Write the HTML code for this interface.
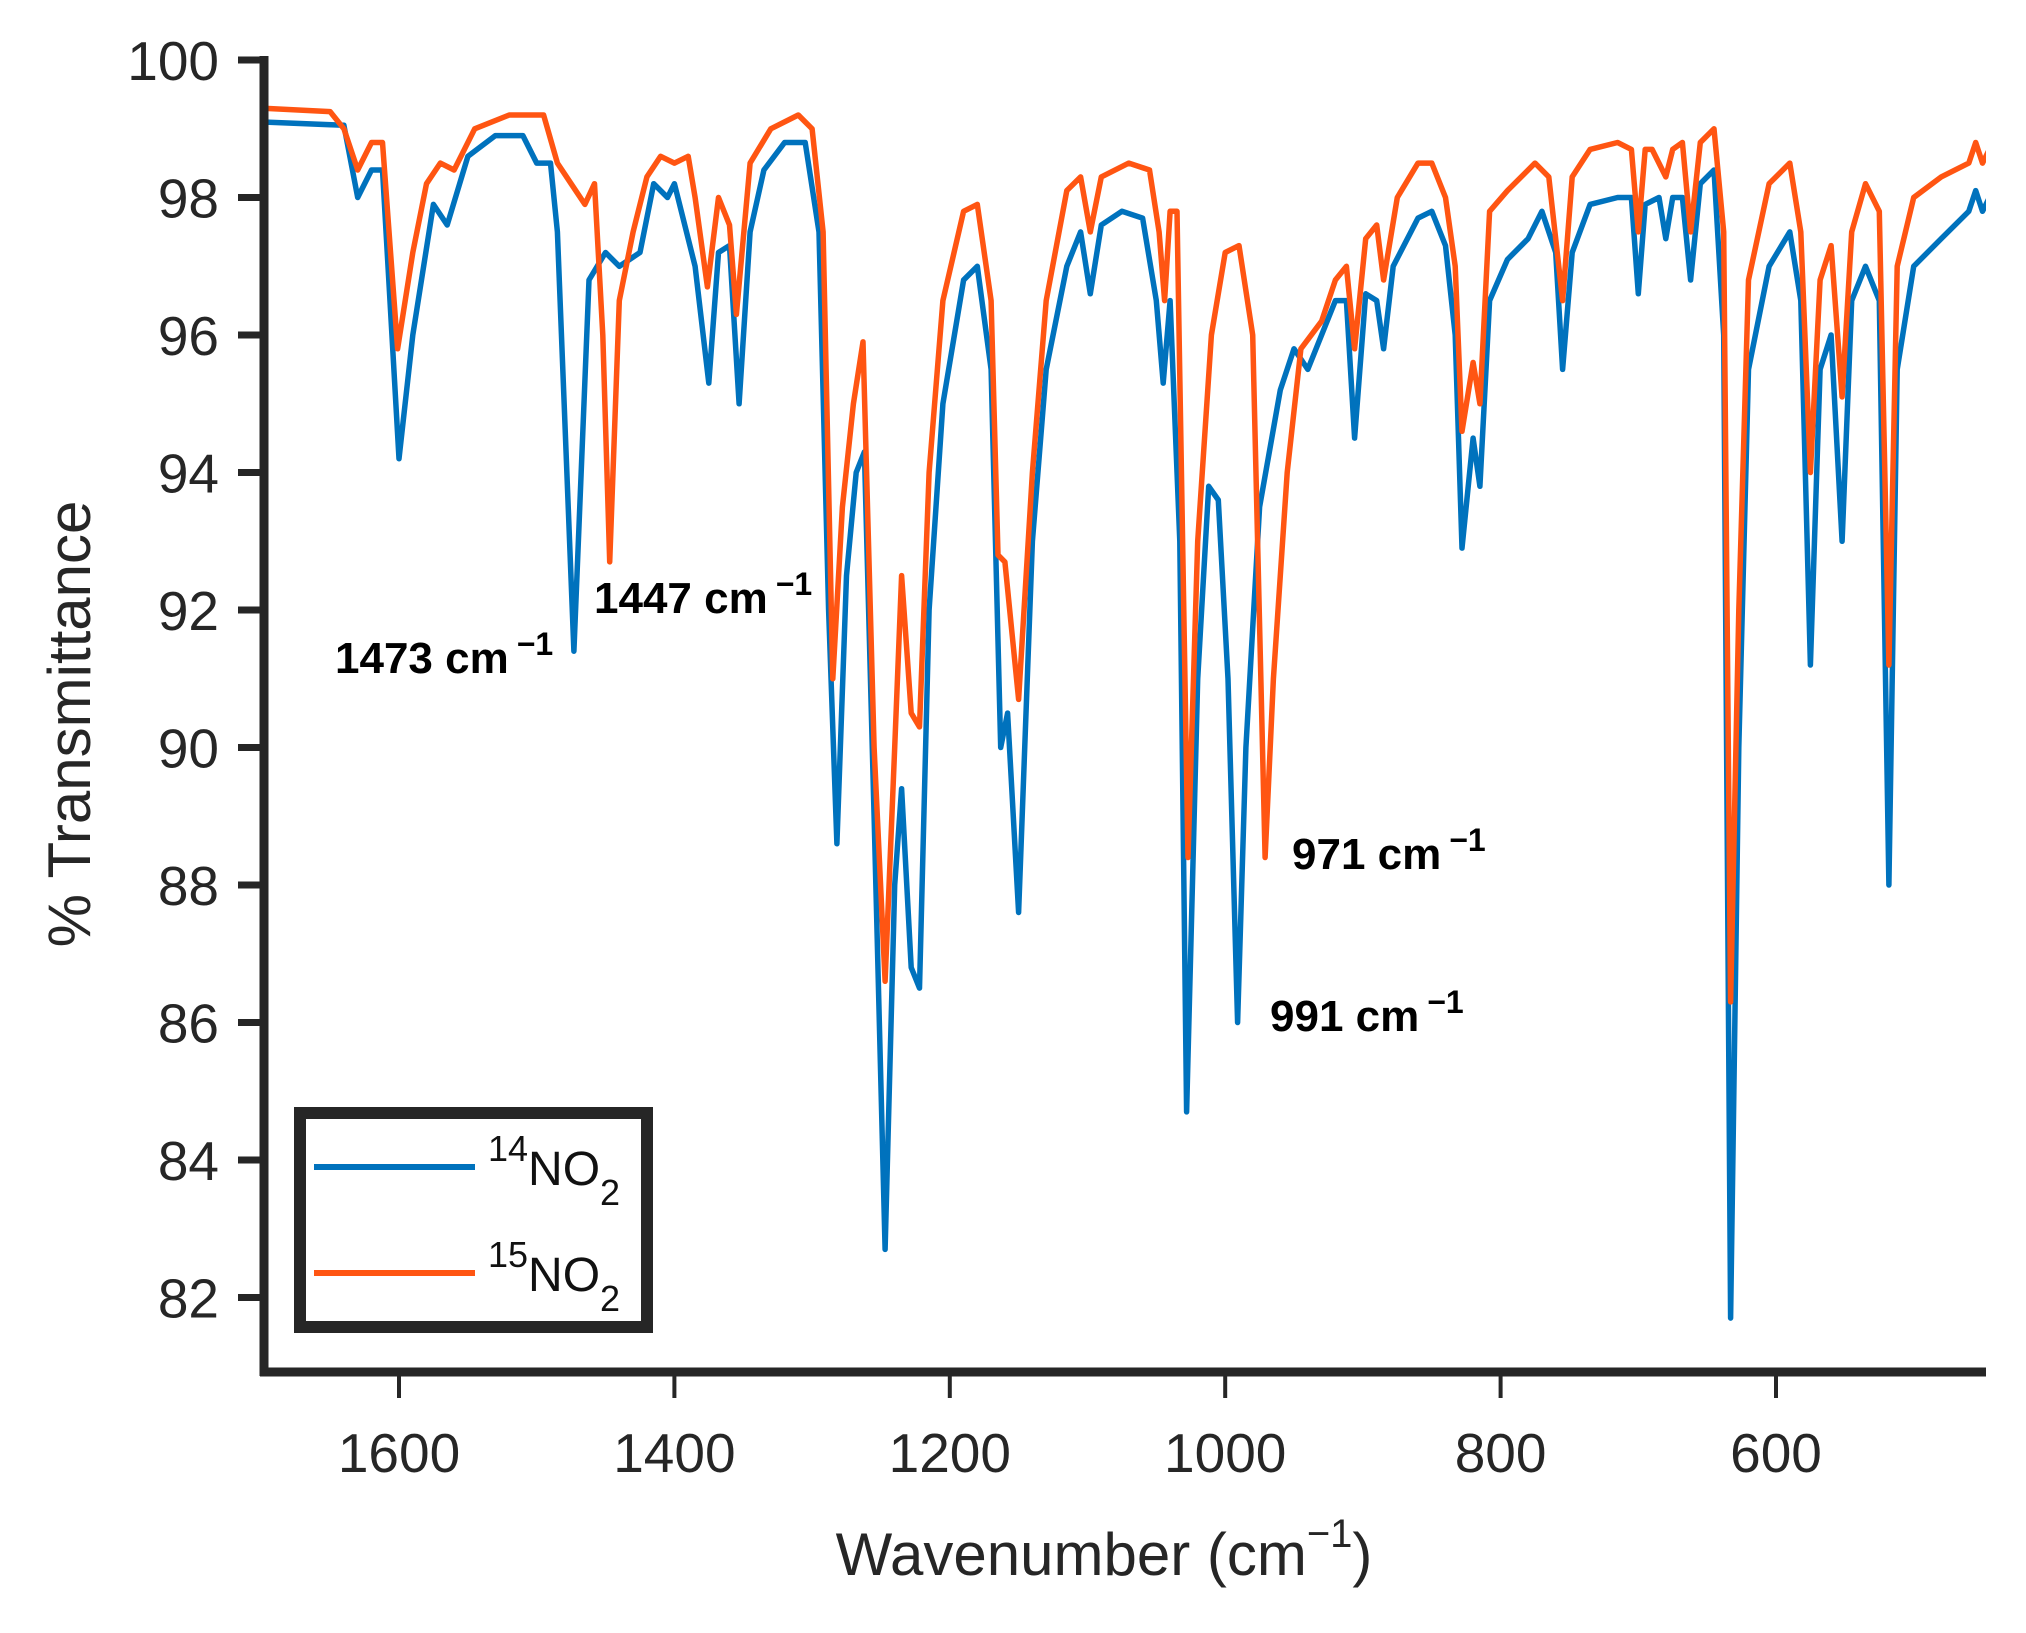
<!DOCTYPE html>
<html><head><meta charset="utf-8"><style>
html,body{margin:0;padding:0;background:#fff}
svg{display:block}
text{font-family:"Liberation Sans",sans-serif}
</style></head><body>
<svg id="s" width="2026" height="1633" viewBox="0 0 2026 1633" xmlns="http://www.w3.org/2000/svg">
<defs><clipPath id="c"><rect x="266" y="40" width="1720" height="1328"/></clipPath></defs>
<g id="plot" clip-path="url(#c)"></g>
<line x1="264" y1="56" x2="264" y2="1376" stroke="#262626" stroke-width="9"/>
<line x1="260" y1="1372" x2="1986" y2="1372" stroke="#262626" stroke-width="9"/>
<g id="ticks" stroke="#262626" stroke-width="7"></g>
<g font-size="55" fill="#262626" text-anchor="end" id="ylab"></g>
<g font-size="55" fill="#262626" text-anchor="middle" id="xlab"></g>
<text x="1104" y="1575" font-size="60" fill="#262626" text-anchor="middle">Wavenumber (cm<tspan dy="-28" font-size="40">−1</tspan><tspan dy="28">)</tspan></text>
<text transform="translate(90,724) rotate(-90)" font-size="60" fill="#262626" text-anchor="middle">% Transmittance</text>
<g font-size="44" font-weight="bold" fill="#000">
<text x="335" y="673">1473 cm<tspan dx="8" dy="-18" font-size="32">−1</tspan></text>
<text x="594" y="613">1447 cm<tspan dx="8" dy="-18" font-size="32">−1</tspan></text>
<text x="1292" y="869">971 cm<tspan dx="8" dy="-18" font-size="32">−1</tspan></text>
<text x="1270" y="1031">991 cm<tspan dx="8" dy="-18" font-size="32">−1</tspan></text>
</g>
<rect x="300" y="1113" width="347" height="214" fill="#fff" stroke="#262626" stroke-width="12"/>
<line x1="314" y1="1167" x2="475" y2="1167" stroke="#0072BD" stroke-width="6"/>
<line x1="314" y1="1273" x2="475" y2="1273" stroke="#FF5512" stroke-width="6"/>
<text x="488" y="1185" font-size="48" fill="#111"><tspan font-size="36" dy="-24">14</tspan><tspan dy="24">NO</tspan><tspan font-size="36" dy="20">2</tspan></text>
<text x="488" y="1291" font-size="48" fill="#111"><tspan font-size="36" dy="-24">15</tspan><tspan dy="24">NO</tspan><tspan font-size="36" dy="20">2</tspan></text>
</svg>
<script>
var NS="http://www.w3.org/2000/svg";
function X(w){return 399+(1600-w)*1.377;}
function Y(v){return 60+(100-v)*68.75;}
var blue=[1700,99.1,1640,99.05,1630,98.0,1620,98.4,1612,98.4,1600,94.2,1590,96,1575,97.9,1565,97.6,1550,98.6,1530,98.9,1510,98.9,1500,98.5,1490,98.5,1485,97.5,1473,91.4,1462,96.8,1450,97.2,1440,97.0,1425,97.2,1415,98.2,1405,98.0,1400,98.2,1385,97.0,1375,95.3,1368,97.2,1360,97.3,1353,95.0,1345,97.5,1335,98.4,1320,98.8,1305,98.8,1295,97.5,1288,92,1282,88.6,1275,92.5,1268,94.0,1262,94.3,1255,89,1247,82.7,1240,88,1235,89.4,1228,86.8,1222,86.5,1215,92,1205,95,1190,96.8,1180,97.0,1170,95.5,1163,90.0,1158,90.5,1150,87.6,1140,93,1130,95.5,1115,97,1105,97.5,1098,96.6,1090,97.6,1075,97.8,1060,97.7,1050,96.5,1045,95.3,1040,96.5,1033,93,1028,84.7,1020,91,1012,93.8,1005,93.6,998,91,991,86.0,985,90,975,93.5,960,95.2,950,95.8,940,95.5,930,96.0,920,96.5,912,96.5,906,94.5,898,96.6,890,96.5,885,95.8,878,97.0,860,97.7,850,97.8,840,97.3,833,96.0,828,92.9,820,94.5,815,93.8,808,96.5,795,97.1,780,97.4,770,97.8,760,97.2,755,95.5,748,97.2,735,97.9,715,98.0,705,98.0,700,96.6,695,97.9,685,98.0,680,97.4,675,98.0,668,98.0,662,96.8,655,98.2,645,98.4,638,96.0,633,81.7,627,90,620,95.5,605,97.0,590,97.5,582,96.5,575,91.2,568,95.5,560,96.0,552,93.0,545,96.5,535,97.0,525,96.5,518,88.0,512,95.5,500,97.0,480,97.4,460,97.8,455,98.1,450,97.8,445,98.0];
var orange=[1700,99.3,1650,99.25,1640,99.0,1630,98.4,1620,98.8,1612,98.8,1601,95.8,1590,97.2,1580,98.2,1570,98.5,1560,98.4,1545,99.0,1520,99.2,1495,99.2,1485,98.5,1475,98.2,1465,97.9,1458,98.2,1452,96,1447,92.7,1440,96.5,1430,97.5,1420,98.3,1410,98.6,1400,98.5,1390,98.6,1385,98.0,1376,96.7,1368,98.0,1360,97.6,1355,96.3,1345,98.5,1330,99.0,1310,99.2,1300,99.0,1292,97.5,1285,91.0,1278,93.5,1270,95,1263,95.9,1255,90,1247,86.6,1240,90,1235,92.5,1228,90.5,1222,90.3,1215,94,1205,96.5,1190,97.8,1180,97.9,1170,96.5,1165,92.8,1160,92.7,1150,90.7,1140,94,1130,96.5,1115,98.1,1105,98.3,1098,97.5,1090,98.3,1070,98.5,1055,98.4,1048,97.5,1044,96.5,1040,97.8,1035,97.8,1027,88.4,1020,93,1010,96.0,1000,97.2,990,97.3,980,96.0,971,88.4,965,91,955,94.0,945,95.8,930,96.2,920,96.8,912,97.0,906,95.8,898,97.4,890,97.6,885,96.8,875,98.0,860,98.5,850,98.5,840,98.0,833,97.0,828,94.6,820,95.6,815,95.0,808,97.8,795,98.1,775,98.5,765,98.3,755,96.5,748,98.3,735,98.7,715,98.8,705,98.7,700,97.5,695,98.7,690,98.7,680,98.3,675,98.7,668,98.8,662,97.5,655,98.8,645,99.0,638,97.5,633,86.3,627,92,620,96.8,605,98.2,590,98.5,582,97.5,575,94.0,568,96.8,560,97.3,552,95.1,545,97.5,535,98.2,525,97.8,518,91.2,512,97.0,500,98.0,480,98.3,460,98.5,455,98.8,450,98.5,445,98.7];
function draw(d,col){var p="";for(var i=0;i<d.length;i+=2){p+=(i?"L":"M")+X(d[i]).toFixed(1)+","+Y(d[i+1]).toFixed(1);}
var e=document.createElementNS(NS,"path");e.setAttribute("d",p);e.setAttribute("fill","none");e.setAttribute("stroke",col);e.setAttribute("stroke-width","5.5");e.setAttribute("stroke-linejoin","round");document.getElementById("plot").appendChild(e);}
draw(blue,"#0072BD");draw(orange,"#FF5512");
var t=document.getElementById("ticks"),yl=document.getElementById("ylab"),xl=document.getElementById("xlab");
for(var v=82;v<=100;v+=2){var y=Y(v);var l=document.createElementNS(NS,"line");l.setAttribute("x1",238);l.setAttribute("x2",262);l.setAttribute("y1",y);l.setAttribute("y2",y);t.appendChild(l);
var tx=document.createElementNS(NS,"text");tx.setAttribute("x",219);tx.setAttribute("y",y+20);tx.textContent=v;yl.appendChild(tx);}
for(var w=600;w<=1600;w+=200){var x=X(w);var l=document.createElementNS(NS,"line");l.setAttribute("x1",x);l.setAttribute("x2",x);l.setAttribute("y1",1374);l.setAttribute("y2",1398);l.setAttribute("stroke-width","4");t.appendChild(l);
var tx=document.createElementNS(NS,"text");tx.setAttribute("x",x);tx.setAttribute("y",1472);tx.textContent=w;xl.appendChild(tx);}
</script>
</body></html>
